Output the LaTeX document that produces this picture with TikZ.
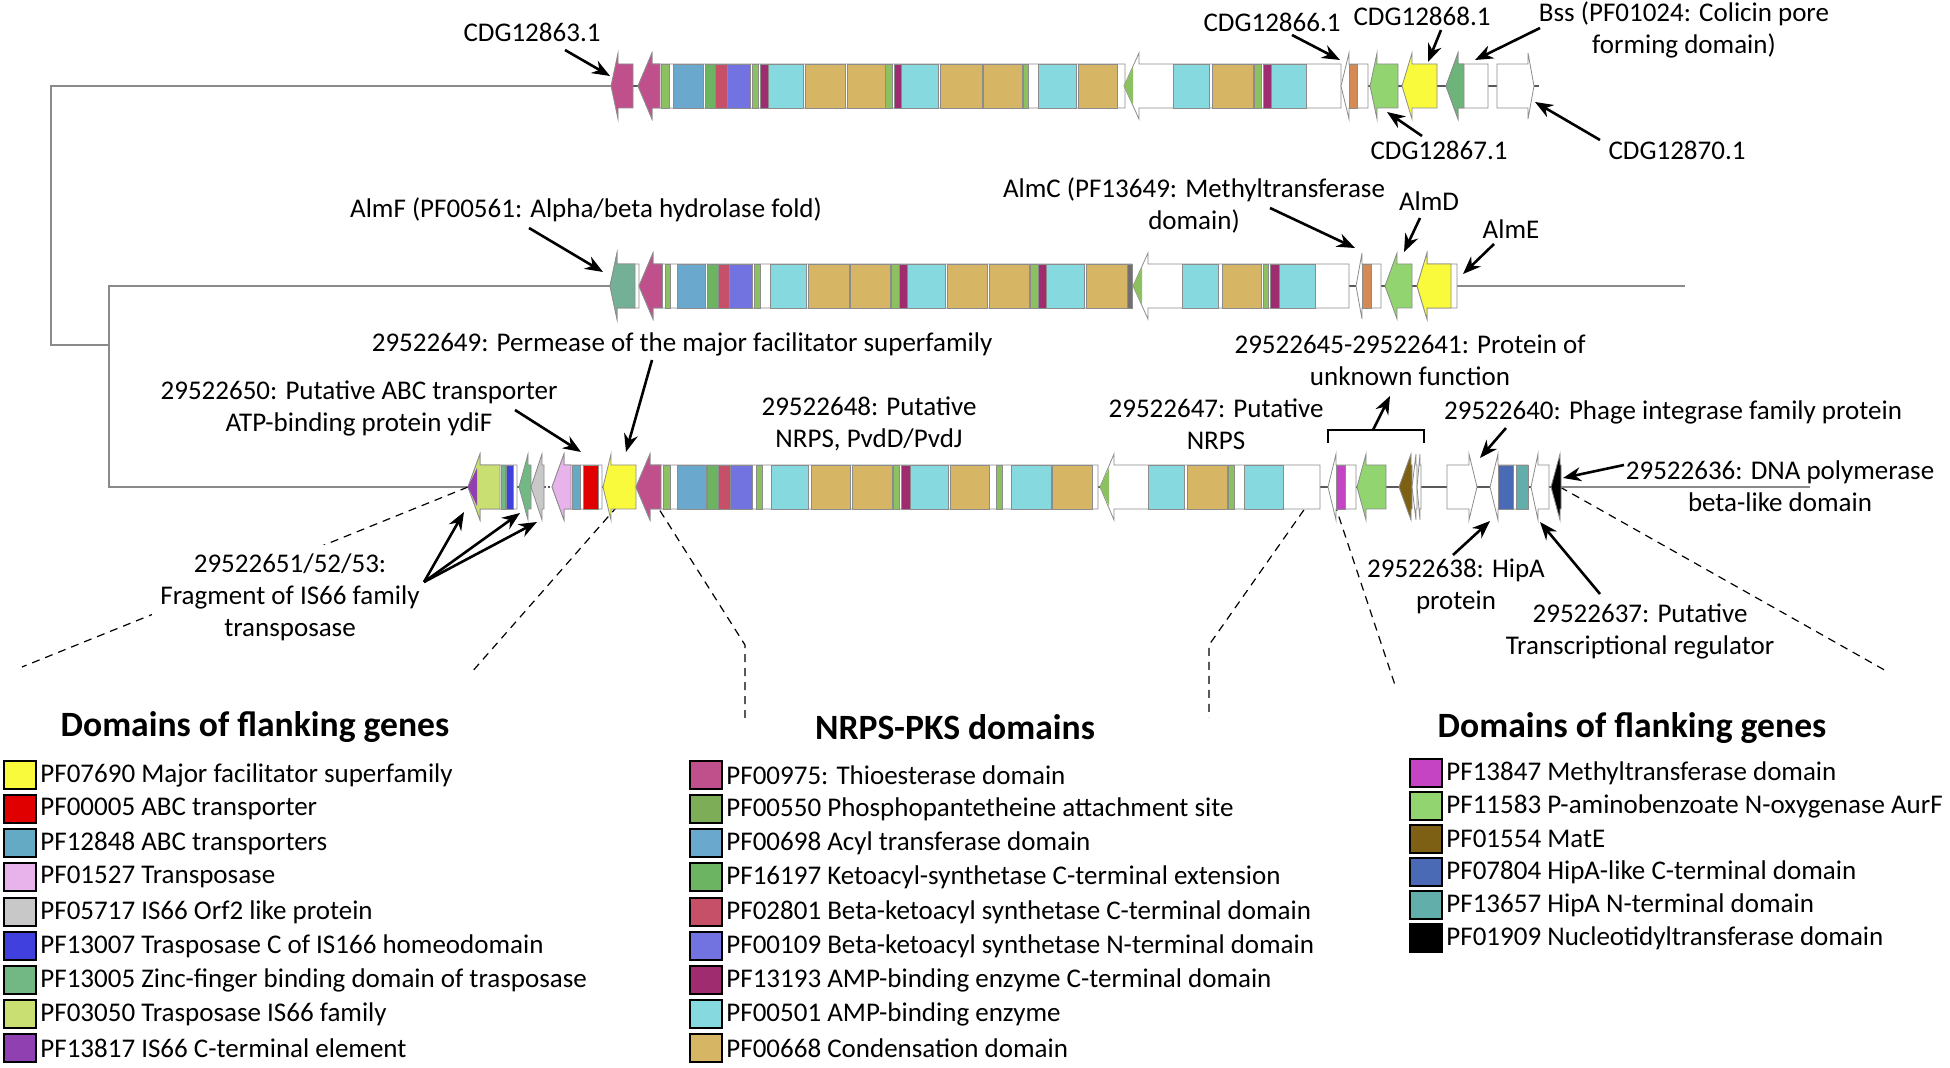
\documentclass[tikz,border=0pt]{standalone}
\usepackage{fontspec}
\setmainfont{Carlito}
\usetikzlibrary{arrows.meta}
\definecolor{te}{HTML}{C0508C}
\definecolor{pp}{HTML}{8CC060}
\definecolor{ppl}{HTML}{7EAD58}
\definecolor{at}{HTML}{6AA8CE}
\definecolor{ksx}{HTML}{6CB462}
\definecolor{ksc}{HTML}{C55068}
\definecolor{ksn}{HTML}{7272E0}
\definecolor{ampc}{HTML}{A02C70}
\definecolor{amp}{HTML}{86D9DE}
\definecolor{cond}{HTML}{D6B565}
\definecolor{mfs}{HTML}{FAFA3C}
\definecolor{abc}{HTML}{E00000}
\definecolor{abct}{HTML}{64AAC4}
\definecolor{tpase}{HTML}{E8B2EA}
\definecolor{orf}{HTML}{C8C8C8}
\definecolor{tpc}{HTML}{4040DE}
\definecolor{zinc}{HTML}{72B884}
\definecolor{isfam}{HTML}{CADF72}
\definecolor{isc}{HTML}{9040B0}
\definecolor{mtr}{HTML}{C444C4}
\definecolor{aurf}{HTML}{92D470}
\definecolor{mate}{HTML}{7E6014}
\definecolor{hipc}{HTML}{4A6AB6}
\definecolor{hipn}{HTML}{62AEAA}
\definecolor{orng}{HTML}{D38A55}
\definecolor{almf}{HTML}{74B096}
\definecolor{bss}{HTML}{6DB47A}
\definecolor{treec}{HTML}{8A8A8A}
\definecolor{greyd}{HTML}{707070}
\newcommand\lgene[5]{\draw[genebox,fill=#5] (#1,#4) -- (#2,#4-33) -- (#2,#4-22) -- (#3,#4-22) -- (#3,#4+22) -- (#2,#4+22) -- (#2,#4+33) -- cycle;}
\newcommand\rgene[5]{\draw[genebox,fill=#5] (#1,#4-22) -- (#2,#4-22) -- (#2,#4-33) -- (#3,#4) -- (#2,#4+33) -- (#2,#4+22) -- (#1,#4+22) -- cycle;}
\newcommand\dom[4]{\draw[dombox,fill=#4] (#1,#3-22) rectangle (#2,#3+22);}
\newcommand\tipfill[3]{\fill[#3] (#1,#2) -- (#1+9,#2-19) -- (#1+9,#2+19) -- cycle;}
\newcommand\legrow[5]{\draw[swatch,fill=#4] (#2,#3-14) rectangle (#2+32,#3+14); \node[legtext] (#1) at (#2+36,#3) {#5};}
\begin{document}
\begin{tikzpicture}[x=0.5pt,y=-0.5pt,
  genebox/.style={draw=black!45,line width=0.4pt},
  dombox/.style={draw=black!45,line width=0.35pt},
  backbone/.style={draw=black!65,line width=1pt},
  treeline/.style={draw=treec,line width=1.1pt},
  lbl/.style={font=\fontsize{13.5}{16}\selectfont,inner sep=0pt,align=center},
  ptr/.style={-{Stealth[length=9pt,width=7pt]},line width=1.3pt},
  zoomline/.style={dash pattern=on 4pt off 3pt,line width=0.6pt},
  swatch/.style={draw=black,line width=1pt},
  legtext/.style={font=\fontsize{13.5}{15}\selectfont,inner sep=0pt,anchor=west},
  heading/.style={font=\bfseries\fontsize{17.8}{21}\selectfont,inner sep=0pt}]
\fill[white] (0,0) rectangle (1950,1068);
\useasboundingbox (0,0) rectangle (1950,1068);

% ---------------- tree ----------------
\draw[treeline] (611,86) -- (51,86) -- (51,345) -- (109,345);
\draw[treeline] (610,286) -- (109,286) -- (109,487) -- (468,487);

% ---------------- dashed zoom lines (under the labels) ----------------
\coordinate (d1a) at (468,487); \coordinate (d1b) at (22,667);
\coordinate (d2a) at (636,485); \coordinate (d2b) at (471,673);
\coordinate (d3a) at (645,487); \coordinate (d3m) at (745,645); \coordinate (d3b) at (745,718);
\coordinate (d4a) at (1320,487); \coordinate (d4m) at (1209,645); \coordinate (d4b) at (1209,718);
\coordinate (d5a) at (1330,490); \coordinate (d5b) at (1395,685);
\coordinate (d6a) at (1560,487); \coordinate (d6b) at (1888,672);
\draw[zoomline] (d1a) -- (d1b);
\draw[zoomline] (d2a) -- (d2b);
\draw[zoomline] (d3a) -- (d3m) -- (d3b);
\draw[zoomline] (d4a) -- (d4m) -- (d4b);
\draw[zoomline] (d5a) -- (d5b);
\draw[zoomline] (d6a) -- (d6b);

% ---------------- top row ----------------
\draw[backbone] (611,86) -- (1539,86);
\lgene{611}{618}{633}{86}{te}
\lgene{638}{652}{1125}{86}{white}
\lgene{638}{652}{660}{86}{te}
\foreach \a/\b/\c in {661/669/pp,673/703/at,705/715/ksx,715/727/ksc,727/750/ksn,752/758/pp,760/768/ampc,768/803.5/amp,805.6/845/cond,847/885/cond,885/892.7/pp,894.7/901.8/ampc,901.8/938/amp,940/982/cond,983/1022/cond,1023/1028.6/pp,1038.6/1076/amp,1078/1117/cond}
  {\dom{\a}{\b}{86}{\c}}
\lgene{1124}{1139}{1341}{86}{white}
\tipfill{1124}{86}{pp}
\foreach \a/\b/\c in {1173/1209/amp,1212/1253/cond,1254/1261/pp,1263/1271/ampc,1271/1306/amp}
  {\dom{\a}{\b}{86}{\c}}
\lgene{1341}{1349}{1368}{86}{white}
\dom{1349}{1357}{86}{orng}
\lgene{1370}{1377}{1398}{86}{aurf}
\lgene{1402}{1412}{1437}{86}{mfs}
\lgene{1446}{1458}{1488}{86}{white}
\lgene{1446}{1458}{1464}{86}{bss}
\rgene{1497}{1528}{1534}{86}{white}

% ---------------- middle row ----------------
\draw[backbone] (610,286) -- (1457,286);
\draw[treeline] (1457,286) -- (1685,286);
\lgene{610}{617}{639}{286}{white}
\lgene{610}{617}{635}{286}{almf}
\lgene{639}{653}{1132}{286}{white}
\lgene{639}{653}{662.5}{286}{te}
\foreach \a/\b/\c in {665/670/pp,677/705/at,707/718/ksx,718/729/ksc,729/752/ksn,754/760/pp,770/806/amp,808/849/cond,850/890/cond,891/899/pp,899/907/ampc,907/945/amp,947/987/cond,989/1029/cond,1030/1038/pp,1038/1046/ampc,1046/1084/amp,1086/1127/cond,1127/1132/greyd}
  {\dom{\a}{\b}{286}{\c}}
\lgene{1133}{1148}{1349}{286}{white}
\tipfill{1133}{286}{pp}
\foreach \a/\b/\c in {1182/1218/amp,1222/1261/cond,1263/1268/pp,1270/1279/ampc,1279/1315/amp}
  {\dom{\a}{\b}{286}{\c}}
\lgene{1356}{1362}{1381}{286}{white}
\dom{1362}{1371}{286}{orng}
\lgene{1385}{1397}{1412}{286}{aurf}
\lgene{1417}{1427}{1457}{286}{white}
\lgene{1417}{1427}{1451}{286}{mfs}

% ---------------- bottom row ----------------
\draw[backbone] (468,487) -- (544,487);
\draw[backbone,densely dotted] (544,487) -- (552,487);
\draw[backbone] (552,487) -- (1560,487);
\draw[treeline] (1560,487) -- (1810,487);
\lgene{468}{480}{517}{487}{white}
\lgene{468}{480}{500}{487}{isfam}
\tipfill{468}{487}{isc}
\dom{501}{505}{487}{zinc}
\dom{506}{513}{487}{tpc}
\lgene{519}{528}{531}{487}{zinc}
\lgene{531}{542}{544}{487}{orf}
\lgene{552}{564}{602}{487}{white}
\lgene{552}{564}{571}{487}{tpase}
\dom{572}{580}{487}{abct}
\dom{583}{598}{487}{abc}
\lgene{603}{611}{636}{487}{mfs}
\lgene{636}{650}{1098}{487}{white}
\lgene{636}{650}{661}{487}{te}
\foreach \a/\b/\c in {663/670/pp,677/706/at,707/718/ksx,718/730/ksc,730/752/ksn,756/762/pp,771/808/amp,811/850/cond,852/892/cond,893/899/pp,901/910/ampc,910/948/amp,950/989/cond,996/1002/pp,1011/1051/amp,1052/1092/cond}
  {\dom{\a}{\b}{487}{\c}}
\lgene{1100}{1114}{1320}{487}{white}
\tipfill{1100}{487}{pp}
\foreach \a/\b/\c in {1148/1184/amp,1187/1227/cond,1228/1234/pp,1244/1283/amp}
  {\dom{\a}{\b}{487}{\c}}
\lgene{1328}{1336}{1356}{487}{white}
\dom{1336}{1345}{487}{mtr}
\lgene{1357}{1366}{1386}{487}{aurf}
\lgene{1399}{1411}{1412}{487}{mate}
\lgene{1412}{1416}{1417}{487}{white}
\lgene{1417}{1420}{1421}{487}{white}
\rgene{1447}{1469}{1477}{487}{white}
\lgene{1490}{1498}{1528}{487}{white}
\dom{1498}{1513}{487}{hipc}
\dom{1516}{1528}{487}{hipn}
\lgene{1531}{1538}{1549}{487}{white}
\lgene{1551}{1560}{1561}{487}{black}

% bracket
\coordinate (brL) at (1328,443);
\coordinate (brR) at (1424,443);
\coordinate (brM) at (1373,430);
\draw[line width=1.2pt] (brL) -- (1328,430) -- (1424,430) -- (brR);

% ---------------- labels ----------------
\node[lbl] (l1) at (532,32) {CDG12863.1};
\node[lbl] (l2) at (1272,22) {CDG12866.1};
\node[lbl] (l3) at (1422,16) {CDG12868.1};
\node[lbl] (l4) at (1684,30) {Bss (PF01024: Colicin pore\\forming domain)};
\node[lbl] (l5) at (1439,150) {CDG12867.1};
\node[lbl] (l6) at (1677,150) {CDG12870.1};
\node[lbl] (l7) at (586,210) {AlmF (PF00561: Alpha/beta hydrolase fold)};
\node[lbl] (l8) at (1194,206) {AlmC (PF13649: Methyltransferase\\domain)};
\node[lbl] (l9) at (1429,201) {AlmD};
\node[lbl] (l10) at (1511,229) {AlmE};
\node[lbl] (l11) at (682,344) {29522649: Permease of the major facilitator superfamily};
\node[lbl] (l12) at (359,408) {29522650: Putative ABC transporter\\ATP-binding protein ydiF};
\node[lbl] (l13) at (869,424) {29522648: Putative\\NRPS, PvdD/PvdJ};
\node[lbl] (l14) at (1216,424) {29522647: Putative\\NRPS};
\node[lbl] (l15) at (1410,360) {29522645-29522641: Protein of\\unknown function};
\node[lbl] (l16) at (1673,412) {29522640: Phage integrase family protein};
\node[lbl] (l17) at (1780,486) {29522636: DNA polymerase\\beta-like domain};
\node[lbl] (l18) at (1456,586) {29522638: HipA\\protein};
\node[lbl] (l19) at (1640,631) {29522637: Putative\\Transcriptional regulator};
\node[lbl,fill=white,inner sep=4pt] (l20) at (290,597) {29522651/52/53:\\Fragment of IS66 family\\transposase};

% ---------------- pointer arrows ----------------
\coordinate (a1s) at (565,50);   \coordinate (a1e) at (610,76);
\coordinate (a2s) at (1292,35);  \coordinate (a2e) at (1340,60);
\coordinate (a3s) at (1441,30);  \coordinate (a3e) at (1428,62);
\coordinate (a4s) at (1540,28);  \coordinate (a4e) at (1475,60);
\coordinate (a5s) at (1422,136); \coordinate (a5e) at (1387,112);
\coordinate (a6s) at (1600,140); \coordinate (a6e) at (1535,102);
\coordinate (a7s) at (529,228);  \coordinate (a7e) at (603,272);
\coordinate (a8s) at (1270,208); \coordinate (a8e) at (1355,248);
\coordinate (a9s) at (1420,218); \coordinate (a9e) at (1404,252);
\coordinate (a10s) at (1494,244); \coordinate (a10e) at (1463,274);
\coordinate (a11s) at (652,360); \coordinate (a11e) at (626,452);
\coordinate (a12s) at (515,410); \coordinate (a12e) at (581,452);
\coordinate (a15e) at (1390,396);
\coordinate (a16s) at (1506,428); \coordinate (a16e) at (1480,458);
\coordinate (a17s) at (1624,465); \coordinate (a17e) at (1563,478);
\coordinate (a18s) at (1453,555); \coordinate (a18e) at (1490,521);
\coordinate (a19s) at (1600,594); \coordinate (a19e) at (1540,522);
\coordinate (a20s) at (424,582);
\coordinate (a20a) at (464,512); \coordinate (a20b) at (520,513); \coordinate (a20c) at (537,522);
\foreach \s/\e in {a1s/a1e,a2s/a2e,a3s/a3e,a4s/a4e,a5s/a5e,a6s/a6e,a7s/a7e,a8s/a8e,a9s/a9e,a10s/a10e,a11s/a11e,a12s/a12e,brM/a15e,a16s/a16e,a17s/a17e,a18s/a18e,a19s/a19e,a20s/a20a,a20s/a20b,a20s/a20c}
  {\draw[ptr] (\s) -- (\e);}

% ---------------- legends ----------------
\node[heading] (h1) at (255,727) {Domains of flanking genes};
\legrow{f1}{4}{775}{mfs}{PF07690 Major facilitator superfamily}
\legrow{f2}{4}{809}{abc}{PF00005 ABC transporter}
\legrow{f3}{4}{843}{abct}{PF12848 ABC transporters}
\legrow{f4}{4}{877}{tpase}{PF01527 Transposase}
\legrow{f5}{4}{912}{orf}{PF05717 IS66 Orf2 like protein}
\legrow{f6}{4}{946}{tpc}{PF13007 Trasposase C of IS166 homeodomain}
\legrow{f7}{4}{980}{zinc}{PF13005 Zinc-finger binding domain of trasposase}
\legrow{f8}{4}{1014}{isfam}{PF03050 Trasposase IS66 family}
\legrow{f9}{4}{1048}{isc}{PF13817 IS66 C-terminal element}

\node[heading] (h2) at (955,727) {NRPS-PKS domains};
\legrow{n1}{690}{775}{te}{PF00975: Thioesterase domain}
\legrow{n2}{690}{809}{ppl}{PF00550 Phosphopantetheine attachment site}
\legrow{n3}{690}{843}{at}{PF00698 Acyl transferase domain}
\legrow{n4}{690}{877}{ksx}{PF16197 Ketoacyl-synthetase C-terminal extension}
\legrow{n5}{690}{912}{ksc}{PF02801 Beta-ketoacyl synthetase C-terminal domain}
\legrow{n6}{690}{946}{ksn}{PF00109 Beta-ketoacyl synthetase N-terminal domain}
\legrow{n7}{690}{980}{ampc}{PF13193 AMP-binding enzyme C-terminal domain}
\legrow{n8}{690}{1014}{amp}{PF00501 AMP-binding enzyme}
\legrow{n9}{690}{1048}{cond}{PF00668 Condensation domain}

\node[heading] (h3) at (1632,728) {Domains of flanking genes};
\legrow{r1}{1410}{773}{mtr}{PF13847 Methyltransferase domain}
\legrow{r2}{1410}{806}{aurf}{PF11583 P-aminobenzoate N-oxygenase AurF}
\legrow{r3}{1410}{839}{mate}{PF01554 MatE}
\legrow{r4}{1410}{872}{hipc}{PF07804 HipA-like C-terminal domain}
\legrow{r5}{1410}{905}{hipn}{PF13657 HipA N-terminal domain}
\legrow{r6}{1410}{938}{black}{PF01909 Nucleotidyltransferase domain}
\end{tikzpicture}
\end{document}
